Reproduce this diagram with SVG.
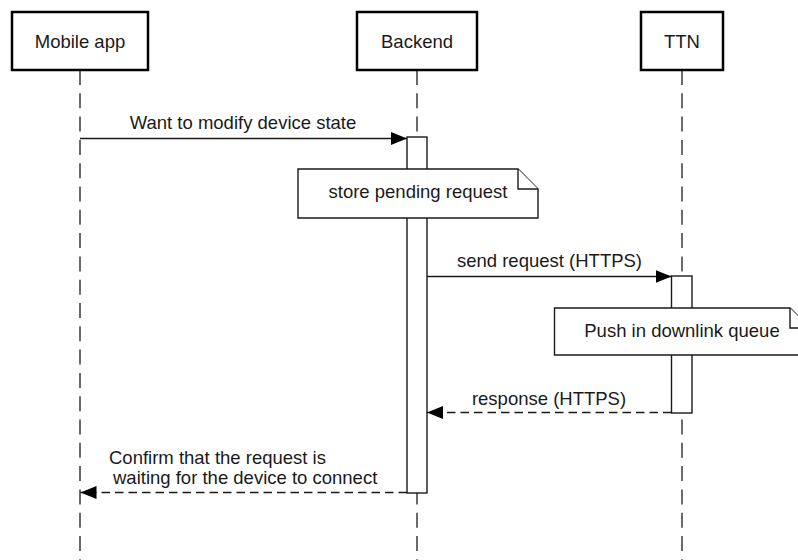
<svg xmlns="http://www.w3.org/2000/svg" width="798" height="560" viewBox="0 0 798 560">
  <style>
    .bg { fill: #ffffff; }
    .head { fill: #ffffff; stroke: #000000; stroke-width: 2.5; }
    .life { fill: none; stroke: #3a3a3a; stroke-width: 1.5; stroke-dasharray: 15 8.3; }
    .act { fill: #ffffff; stroke: #1a1a1a; stroke-width: 1.4; }
    .note { fill: #ffffff; stroke: #1a1a1a; stroke-width: 1.4; }
    .msg { fill: none; stroke: #1a1a1a; stroke-width: 1.4; marker-end: url(#arrow); }
    .ret { stroke-dasharray: 8.5 5; }
    text { font-family: "Liberation Sans", Arial, sans-serif; font-size: 18.5px; fill: #1a1a1a; }
    .c { text-anchor: middle; }
  </style>
  <defs>
    <marker id="arrow" markerUnits="userSpaceOnUse" markerWidth="17" markerHeight="14" refX="16" refY="6.5" orient="auto">
      <path d="M0,0 L16,6.5 L0,13 z" fill="#000000"/>
    </marker>
  </defs>

  <rect class="bg" x="0" y="0" width="798" height="560"/>

  <!-- lifelines -->
  <g id="lifelines">
    <line class="life" x1="80" y1="70" x2="80" y2="560"/>
    <line class="life" x1="417" y1="70" x2="417" y2="560"/>
    <line class="life" x1="682" y1="70" x2="682" y2="560"/>
  </g>

  <!-- participants -->
  <g id="mobile-app">
    <rect class="head" x="12" y="12" width="136" height="58"/>
    <text class="c" x="80" y="47.5">Mobile app</text>
  </g>
  <g id="backend">
    <rect class="head" x="357" y="12" width="120" height="58"/>
    <text class="c" x="417" y="47.5">Backend</text>
  </g>
  <g id="ttn">
    <rect class="head" x="641" y="12" width="82" height="58"/>
    <text class="c" x="682" y="47.5">TTN</text>
  </g>

  <!-- activation bars -->
  <g id="backend-activation">
    <rect class="act" x="407" y="137" width="20" height="356"/>
  </g>
  <g id="ttn-activation">
    <rect class="act" x="671.5" y="276" width="20.5" height="137"/>
  </g>

  <!-- notes -->
  <g id="note-store">
    <path class="note" d="M298,169 H518 L538,189 V218 H298 Z"/>
    <path class="note" d="M518,169 V189 H538" fill="none"/>
    <text class="c" x="418" y="198">store pending request</text>
  </g>
  <g id="note-push">
    <path class="note" d="M554.5,308 H790 L810,328 V355 H554.5 Z"/>
    <path class="note" d="M790,308 V328 H810" fill="none"/>
    <text class="c" x="682" y="336.5">Push in downlink queue</text>
  </g>

  <!-- messages -->
  <g id="connectors">
    <line class="msg" x1="80" y1="138.5" x2="407" y2="138.5"/>
    <line class="msg" x1="427" y1="276.5" x2="671.5" y2="276.5"/>
    <line class="msg ret" x1="671.5" y1="412.5" x2="427" y2="412.5"/>
    <line class="msg ret" x1="407" y1="492.5" x2="80.5" y2="492.5"/>
  </g>

  <!-- message labels -->
  <g id="labels">
    <text class="c" x="243" y="129">Want to modify device state</text>
    <text class="c" x="549.5" y="266.5">send request (HTTPS)</text>
    <text class="c" x="549" y="405">response (HTTPS)</text>
    <text x="109" y="463.5">Confirm that the request is</text>
    <text x="113" y="483.5">waiting for the device to connect</text>
  </g>
</svg>
